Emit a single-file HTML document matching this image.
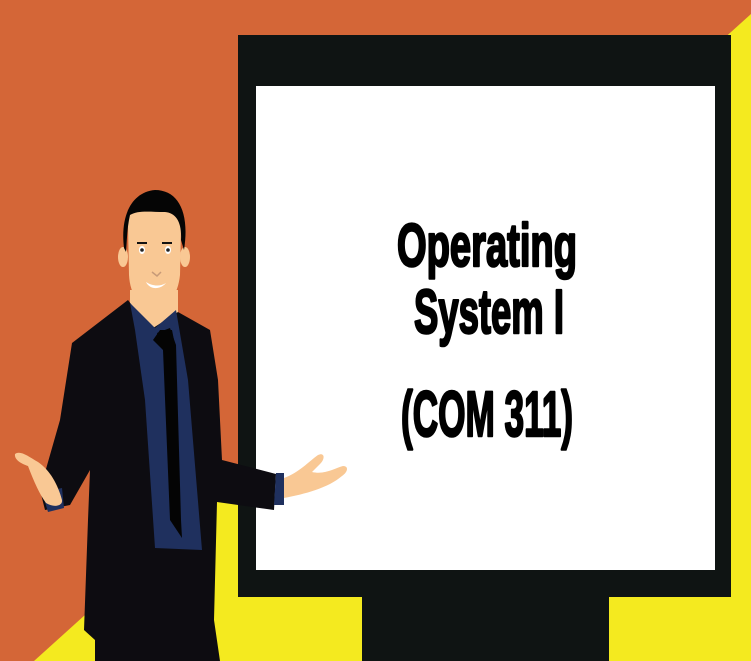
<!DOCTYPE html>
<html><head><meta charset="utf-8"><style>
html,body{margin:0;padding:0;width:751px;height:661px;overflow:hidden;background:#d46637}
svg{display:block}
</style></head><body>
<svg width="751" height="661" viewBox="0 0 751 661" xmlns="http://www.w3.org/2000/svg">
<rect width="751" height="661" fill="#d46637"/>
<polygon points="34,661 751,661 751,14" fill="#f4ea1f"/>
<rect x="238" y="35" width="493" height="562" fill="#0f1413"/>
<rect x="362" y="590" width="247" height="71" fill="#0f1413"/>
<rect x="256" y="86" width="459" height="484" fill="#ffffff"/>
<g font-family="'Liberation Sans Narrow','Liberation Sans',sans-serif" font-weight="bold" fill="#000" stroke="#000" stroke-width="2.5" stroke-linejoin="round" text-anchor="middle">
<text x="487" y="266" font-size="60" textLength="180" lengthAdjust="spacingAndGlyphs">Operating</text>
<text x="489" y="333" font-size="62" textLength="150" lengthAdjust="spacingAndGlyphs">System I</text>
<text x="487" y="436" font-size="64" textLength="172" lengthAdjust="spacingAndGlyphs">(COM 311)</text>
</g>
<polygon points="130,290 178,290 178,320 155,330 130,310" fill="#f9c894"/>
<polygon points="128,300 150,330 178,312 210,330 218,380 222,460 276,474 274,510 217,502 214,620 220,661 95,661 95,640 84,630 88,520 90,470 70,505 45,510 40,490 60,420 72,343" fill="#0d0c11"/>
<polygon points="130,303 155,328 176,310 188,380 202,550 155,548 145,400 135,330" fill="#1f305e"/>
<polygon points="157,333 170,328 176,345 181,520 182,538 170,520 163,350" fill="#040404"/>
<polygon points="153,340 160,330 172,330 175,345 165,352" fill="#040404"/>
<polygon points="276,473 284,473 284,505 274,505" fill="#1f305e"/>
<polygon points="42,492 62,488 64,508 48,512" fill="#1f305e"/>
<path d="M284,478 C300,472 308,462 318,455 C324,452 326,458 320,464 L312,472 C325,475 335,468 343,466 C349,466 348,472 342,476 C328,488 305,494 284,498 Z" fill="#f9c894"/>
<path d="M62,500 C58,485 50,470 38,462 C28,456 20,450 15,454 C14,460 22,464 28,466 C34,482 40,495 46,503 C54,508 63,506 62,500 Z" fill="#f9c894"/>
<ellipse cx="123" cy="257" rx="5" ry="10" fill="#f9c894"/>
<ellipse cx="185" cy="257" rx="5" ry="10" fill="#f9c894"/>
<path d="M128,225 C128,205 140,200 155,200 C172,200 182,208 181,228 L180,275 C178,295 168,308 155,310 C140,308 130,295 129,275 Z" fill="#f9c894"/>
<path d="M124,248 C120,215 132,192 155,190 C178,190 190,212 184,250 L181,240 C182,222 176,213 165,212 C150,212 138,210 130,215 C127,228 127,240 126,252 Z" fill="#050505"/>
<ellipse cx="142" cy="250" rx="3" ry="4" fill="#fff"/><circle cx="142" cy="250" r="1.8" fill="#222"/>
<ellipse cx="168" cy="250" rx="3" ry="4" fill="#fff"/><circle cx="168" cy="250" r="1.8" fill="#222"/>
<path d="M137,243 L147,243" stroke="#111" stroke-width="2"/>
<path d="M162,243 L172,243" stroke="#111" stroke-width="2"/>
<path d="M152,272 L157,276 L161,272" stroke="#c79a78" stroke-width="1.5" fill="none"/>
<path d="M146,282 C152,286 160,287 166,283 C160,290 150,290 146,282 Z" fill="#fff"/>
</svg>
</body></html>
